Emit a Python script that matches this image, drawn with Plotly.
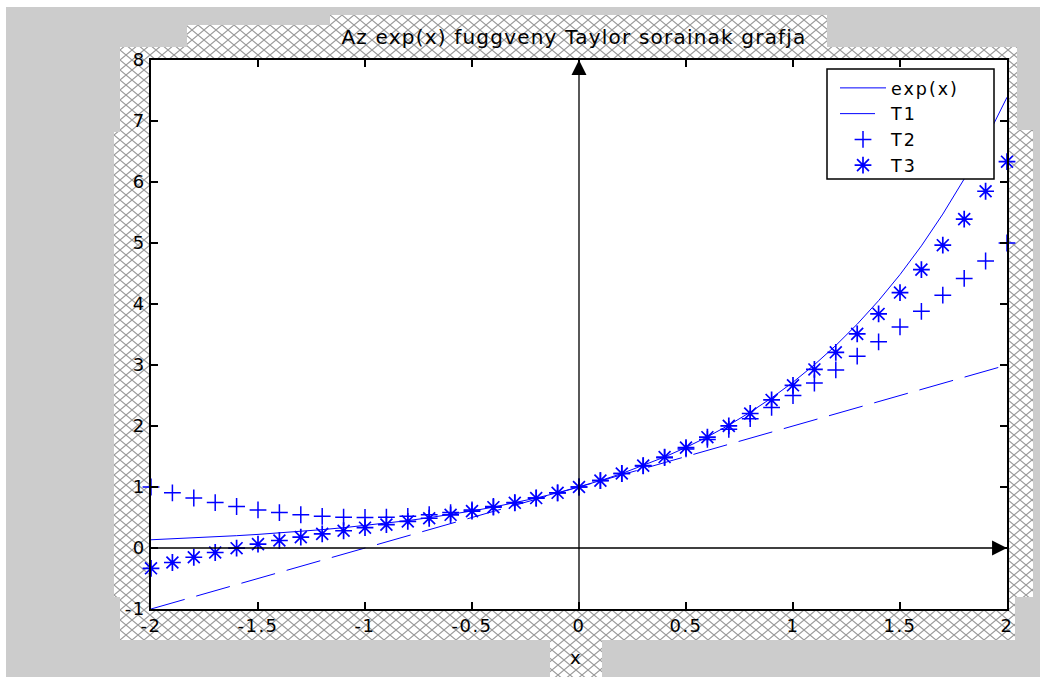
import base64
import plotly.graph_objects as go

# ---------------- data ----------------
x_vals = [-2.0, -1.9, -1.8, -1.7, -1.6, -1.5, -1.4, -1.3, -1.2, -1.1, -1.0,
          -0.9, -0.8, -0.7, -0.6, -0.5, -0.4, -0.3, -0.2, -0.1, 0.0,
          0.1, 0.2, 0.3, 0.4, 0.5, 0.6, 0.7, 0.8, 0.9, 1.0,
          1.1, 1.2, 1.3, 1.4, 1.5, 1.6, 1.7, 1.8, 1.9, 2.0]
exp_vals = [0.135, 0.150, 0.165, 0.183, 0.202, 0.223, 0.247, 0.273, 0.301, 0.333, 0.368,
            0.407, 0.449, 0.497, 0.549, 0.607, 0.670, 0.741, 0.819, 0.905, 1.000,
            1.105, 1.221, 1.350, 1.492, 1.649, 1.822, 2.014, 2.226, 2.460, 2.718,
            3.004, 3.320, 3.669, 4.055, 4.482, 4.953, 5.474, 6.050, 6.686, 7.389]
t1_vals = [-1.0, -0.9, -0.8, -0.7, -0.6, -0.5, -0.4, -0.3, -0.2, -0.1, 0.0,
           0.1, 0.2, 0.3, 0.4, 0.5, 0.6, 0.7, 0.8, 0.9, 1.0,
           1.1, 1.2, 1.3, 1.4, 1.5, 1.6, 1.7, 1.8, 1.9, 2.0,
           2.1, 2.2, 2.3, 2.4, 2.5, 2.6, 2.7, 2.8, 2.9, 3.0]
t2_vals = [1.000, 0.905, 0.820, 0.745, 0.680, 0.625, 0.580, 0.545, 0.520, 0.505, 0.500,
           0.505, 0.520, 0.545, 0.580, 0.625, 0.680, 0.745, 0.820, 0.905, 1.000,
           1.105, 1.220, 1.345, 1.480, 1.625, 1.780, 1.945, 2.120, 2.305, 2.500,
           2.705, 2.920, 3.145, 3.380, 3.625, 3.880, 4.145, 4.420, 4.705, 5.000]
t3_vals = [-0.333, -0.238, -0.152, -0.074, -0.003, 0.063, 0.123, 0.179, 0.232, 0.283, 0.333,
           0.384, 0.435, 0.488, 0.544, 0.604, 0.669, 0.741, 0.819, 0.905, 1.000,
           1.105, 1.221, 1.350, 1.491, 1.646, 1.816, 2.002, 2.205, 2.427, 2.667,
           2.927, 3.208, 3.511, 3.837, 4.188, 4.563, 4.964, 5.392, 5.848, 6.333]
series_names = ["exp(x)", "T1", "T2", "T3"]
x_tick_vals = [-2, -1.5, -1, -0.5, 0, 0.5, 1, 1.5, 2]
x_tick_text = ["-2", "-1.5", "-1", "-0.5", "0", "0.5", "1", "1.5", "2"]
y_tick_vals = [-1, 0, 1, 2, 3, 4, 5, 6, 7, 8]
y_tick_text = ["-1", "0", "1", "2", "3", "4", "5", "6", "7", "8"]
title_text = "Az exp(x) fuggveny Taylor sorainak grafja"
x_label = "x"

# ---------------- layout geometry ----------------
W, H = 1040, 677
ML, MR, MT, MB = 151, 33, 60, 68
PW, PH = W - ML - MR, H - MT - MB
FONT = "DejaVu Sans"
BLUE = "#0000ff"


def px_x(p):
    return (p - ML) / PW


def px_y(p):
    return (H - MB - p) / PH


def spaced(t, ls):
    # wide bitmap-like lettering
    return f'<span style="letter-spacing:{ls}px">{t}</span>'


# background: grey window, crosshatched axes frame, white plot box
hatch_poly = [(120, 47), (187, 47), (187, 25), (330, 25), (330, 15), (827, 15), (827, 47),
              (1017, 47), (1017, 130), (1033, 130), (1033, 597), (1015, 597), (1015, 640),
              (602, 640), (602, 677), (550, 677), (550, 640), (120, 640), (120, 597),
              (114, 597), (114, 132), (120, 132)]
pts = " ".join(f"{a},{b}" for a, b in hatch_poly)
svg = f'''<svg xmlns="http://www.w3.org/2000/svg" width="{W}" height="{H}" viewBox="0 0 {W} {H}">
<defs><pattern id="h" x="0" y="0" width="12" height="10" patternUnits="userSpaceOnUse">
<rect width="12" height="10" fill="#ffffff"/>
<path d="M0,0L12,10M0,10L12,0" stroke="#999999" stroke-width="1.1"/></pattern></defs>
<rect width="{W}" height="{H}" fill="#cccccc"/>
<rect width="{W}" height="7" fill="#ffffff"/>
<rect width="6" height="{H}" fill="#ffffff"/>
<polygon points="{pts}" fill="url(#h)"/>
<rect x="{ML}" y="{MT}" width="{PW}" height="{PH}" fill="#ffffff"/>
</svg>'''
svg_uri = "data:image/svg+xml;base64," + base64.b64encode(svg.encode()).decode()

LEG_LS = 2
fig = go.Figure()
fig.add_trace(go.Scatter(x=x_vals, y=exp_vals, name=spaced(series_names[0], LEG_LS), mode="lines",
                         line=dict(color=BLUE, width=1)))
fig.add_trace(go.Scatter(x=x_vals, y=t1_vals, name=spaced(series_names[1], LEG_LS), mode="lines",
                         line=dict(color=BLUE, width=1, dash="35px,12px")))
fig.add_trace(go.Scatter(x=x_vals, y=t2_vals, name=spaced(series_names[2], LEG_LS), mode="markers",
                         cliponaxis=False,
                         marker=dict(symbol="cross-thin", size=12, color=BLUE,
                                     line=dict(color=BLUE, width=1.5))))
fig.add_trace(go.Scatter(x=x_vals, y=t3_vals, name=spaced(series_names[3], LEG_LS), mode="markers",
                         cliponaxis=False,
                         marker=dict(symbol="asterisk", size=14, color=BLUE,
                                     line=dict(color=BLUE, width=1.7))))

axis_common = dict(showgrid=False, zeroline=False, showline=True, linecolor="black",
                   linewidth=1.5, mirror="ticks", ticks="inside", ticklen=7, tickwidth=1.5,
                   tickcolor="black", tickfont=dict(family=FONT, size=18, color="black"))

# legend frame (box) in pixel positions of the reference
LEG_L, LEG_R, LEG_T, LEG_B = 827, 994, 69, 179

fig.update_layout(
    width=W, height=H,
    margin=dict(l=ML, r=MR, t=MT, b=MB, pad=0),
    paper_bgcolor="#cccccc",
    plot_bgcolor="rgba(0,0,0,0)",
    font=dict(family=FONT, color="black"),
    title=dict(text=spaced(title_text, 1.2), x=px_x(574), xref="paper", xanchor="center",
               y=1 - 37 / H, yref="container", yanchor="middle",
               font=dict(family=FONT, size=20, color="black")),
    xaxis=dict(range=[-2, 2], tickvals=x_tick_vals,
               ticktext=[spaced(t, 1.5) for t in x_tick_text], **axis_common),
    yaxis=dict(range=[-1, 8], tickvals=y_tick_vals,
               ticktext=[spaced(t, 1.5) for t in y_tick_text], **axis_common),
    legend=dict(x=px_x(LEG_L + 8), xanchor="left", y=px_y(LEG_T + 1), yanchor="top",
                bgcolor="rgba(0,0,0,0)", borderwidth=0,
                font=dict(family=FONT, size=17.5, color="black"),
                itemwidth=46, tracegroupgap=0),
    showlegend=True,
    shapes=[dict(type="rect", xref="paper", yref="paper",
                 x0=px_x(LEG_L), x1=px_x(LEG_R), y0=px_y(LEG_B), y1=px_y(LEG_T),
                 fillcolor="white", line=dict(color="black", width=1.5), layer="above")],
    images=[dict(source=svg_uri, xref="paper", yref="paper",
                 x=-ML / PW, y=1 + MT / PH, sizex=W / PW, sizey=H / PH,
                 xanchor="left", yanchor="top", sizing="stretch", layer="below")],
    annotations=[
        dict(x=0, y=8, ax=0, ay=-1, xref="x", yref="y", axref="x", ayref="y", text="",
             showarrow=True, arrowhead=2, arrowsize=2.3, arrowwidth=1.3, arrowcolor="black",
             standoff=0, startstandoff=0),
        dict(x=2, y=0, ax=-2, ay=0, xref="x", yref="y", axref="x", ayref="y", text="",
             showarrow=True, arrowhead=2, arrowsize=2.3, arrowwidth=1.3, arrowcolor="black",
             standoff=0, startstandoff=0),
        dict(x=px_x(575), y=px_y(657), xref="paper", yref="paper", text=x_label,
             showarrow=False, xanchor="center", yanchor="middle",
             font=dict(family=FONT, size=18, color="black")),
    ],
)

fig.write_html("out.html")
